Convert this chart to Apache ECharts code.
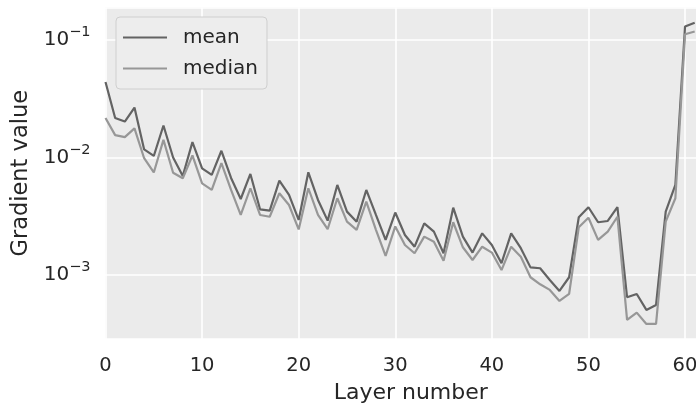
<!DOCTYPE html>
<html>
<head>
<meta charset="utf-8">
<script src="https://cdn.jsdelivr.net/npm/echarts@6/dist/echarts.min.js"></script>
<style>
  html, body { margin: 0; padding: 0; background: #fff; }
  #chart { width: 696px; height: 410px; }
</style>
</head>
<body>
<div id="chart"></div>
<script>
const layers = [0, 1, 2, 3, 4, 5, 6, 7, 8, 9, 10, 11, 12, 13, 14, 15, 16, 17, 18, 19,
  20, 21, 22, 23, 24, 25, 26, 27, 28, 29, 30, 31, 32, 33, 34, 35, 36, 37, 38, 39,
  40, 41, 42, 43, 44, 45, 46, 47, 48, 49, 50, 51, 52, 53, 54, 55, 56, 57, 58, 59, 60, 61]

const meanGrad = [
  0.0439, 0.0217, 0.0202, 0.0266, 0.0117, 0.0103, 0.0187, 0.0100, 0.00696, 0.0135,
  0.00809, 0.00710, 0.0114, 0.00669, 0.00443, 0.00724, 0.00362, 0.00353, 0.00635, 0.00480,
  0.00294, 0.00748, 0.00435, 0.00290, 0.00583, 0.00346, 0.00284, 0.00529, 0.00324, 0.00199,
  0.00340, 0.00219, 0.00174, 0.00275, 0.00234, 0.00153, 0.00374, 0.00212, 0.00155, 0.00226,
  0.00180, 0.00126, 0.00226, 0.00169, 0.00116, 0.00114, 0.000907, 0.000731, 0.000956, 0.00310,
  0.00377, 0.00281, 0.00288, 0.00377, 0.000646, 0.000689, 0.000504, 0.000556, 0.00346, 0.00583,
  0.130, 0.140
]

const medianGrad = [
  0.0217, 0.0155, 0.0149, 0.0177, 0.00985, 0.00745, 0.0141, 0.00742, 0.00665, 0.0104,
  0.00601, 0.00529, 0.00893, 0.00529, 0.00324, 0.00547, 0.00324, 0.00313, 0.00496, 0.00394,
  0.00244, 0.00547, 0.00324, 0.00245, 0.00450, 0.00284, 0.00242, 0.00421, 0.00242, 0.00145,
  0.00259, 0.00180, 0.00153, 0.00212, 0.00192, 0.00132, 0.00281, 0.00172, 0.00134, 0.00174,
  0.00155, 0.00110, 0.00174, 0.00143, 0.000956, 0.000833, 0.000746, 0.000601, 0.000689, 0.00255,
  0.00307, 0.00199, 0.00234, 0.00313, 0.000414, 0.000478, 0.000383, 0.000383, 0.00284, 0.00450,
  0.112, 0.118
]

const xTicks = [0, 10, 20, 30, 40, 50, 60]

const textColor = '#262626'
const chart = echarts.init(document.getElementById('chart'))

chart.setOption({
  animation: false,
  textStyle: { fontFamily: 'DejaVu Sans' },
  grid: {
    left: 105.5, top: 7.5, right: -4, bottom: 71,
    outerBoundsMode: 'none', containLabel: false,
    show: true, backgroundColor: '#EBEBEB', borderWidth: 0
  },
  legend: {
    orient: 'vertical', left: 116, top: 17,
    icon: 'rect', itemWidth: 44, itemHeight: 2, itemGap: 8,
    padding: [9, 9, 9, 7],
    backgroundColor: '#EDEDED', borderColor: '#CFCFCF', borderWidth: 1, borderRadius: 4,
    textStyle: { fontSize: 20, color: textColor, padding: [0, 0, 0, 11], lineHeight: 23 },
    data: ['mean', 'median']
  },
  xAxis: {
    type: 'value', min: 0, max: 61.55, interval: 10,
    name: 'Layer number', nameLocation: 'middle', nameGap: 43,
    nameTextStyle: { fontSize: 22, color: textColor, padding: [0, 0, 0, 16] },
    axisLine: { show: false }, axisTick: { show: false },
    axisLabel: {
      fontSize: 19.5, color: textColor, margin: 17,
      formatter: v => xTicks.includes(v) ? String(v) : ''
    },
    splitLine: { show: true, lineStyle: { color: '#FFFFFF', width: 1.6 } }
  },
  yAxis: {
    type: 'log', logBase: 10, min: 0.000285, max: 0.189,
    name: 'Gradient value', nameLocation: 'middle', nameGap: 69,
    nameTextStyle: { fontSize: 22.5, color: textColor },
    axisLine: { show: false }, axisTick: { show: false },
    axisLabel: {
      color: textColor, margin: 15,
      formatter: v => {
        const e = Math.log10(v)
        if (Math.abs(e - Math.round(e)) > 1e-6) return ''
        return '{b|10}{s|\u2212' + Math.abs(Math.round(e)) + '}'
      },
      rich: {
        b: { fontSize: 20, color: textColor, lineHeight: 30 },
        s: { fontSize: 14.5, color: textColor, lineHeight: 15, verticalAlign: 'top' }
      }
    },
    splitLine: { show: true, lineStyle: { color: '#FFFFFF', width: 1.6 } }
  },
  series: [
    {
      name: 'mean', type: 'line', symbol: 'none',
      lineStyle: { color: '#636363', width: 2.2 }, itemStyle: { color: '#636363' },
      data: layers.map((l, i) => [l, meanGrad[i]])
    },
    {
      name: 'median', type: 'line', symbol: 'none',
      lineStyle: { color: '#979797', width: 2.2 }, itemStyle: { color: '#979797' },
      data: layers.map((l, i) => [l, medianGrad[i]])
    }
  ]
})
</script>
</body>
</html>
